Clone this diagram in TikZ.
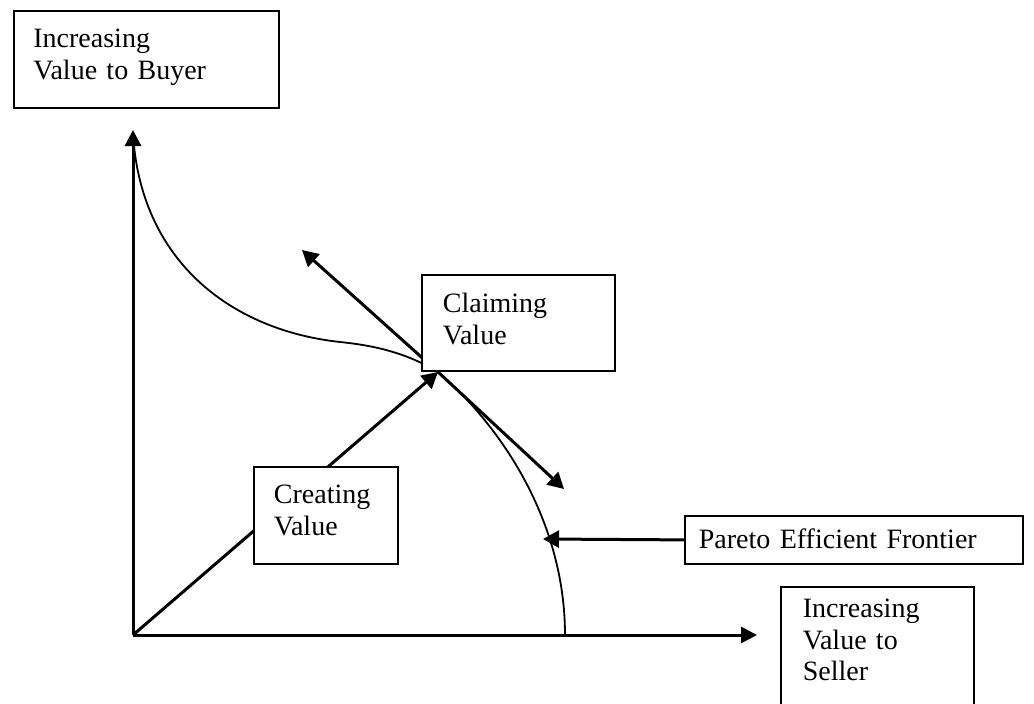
\documentclass[tikz,border=0pt]{standalone}
\usepackage{fontspec}
\setmainfont{Liberation Serif}
\usetikzlibrary{arrows.meta}
\tikzset{
  box/.style={draw, line width=1.8pt, fill=white, rectangle, anchor=north west,
    align=left, inner ysep=0pt, font=\fontsize{28}{31.5}\selectfont},
  axis/.style={line width=3pt, -{Triangle[length=16pt,width=16pt]}},
  arr/.style={line width=3pt, -{Triangle[length=16pt,width=17pt]}},
  frontier/.style={line width=1.8pt},
}
\begin{document}
\begin{tikzpicture}[x=1pt,y=-1pt]
\useasboundingbox (0,0) rectangle (1034,704);
\fill[white] (0,0) rectangle (1034,704);
\clip (0,0) rectangle (1034,704);
% key points
\coordinate (O) at (133,635);
\coordinate (ytip) at (133,130);
\coordinate (xtip) at (757,635);
\coordinate (P) at (438,372);
\coordinate (ul) at (302,250);
\coordinate (dr) at (564,489);
\coordinate (ptip) at (543,539);
\coordinate (c0) at (133,133);
\coordinate (c1) at (340,342);
\coordinate (c2) at (565,635);
% frontier curve
\draw[frontier] (c0) .. controls (140,260) and (230,330) .. (c1)
  .. controls (380,346) and (410,355) .. (P)
  .. controls (500,425) and (565,520) .. (c2);
% axes
\draw[axis] (O) -- (ytip);
\draw[axis] (O) -- (xtip);
% creating value arrow
\draw[arr] (O) -- (P);
% claiming value arrows
\draw[arr] (P) -- (ul);
\draw[arr] (P) -- (dr);
% boxes
\node[box, text width=226pt, inner xsep=19.5pt, text height=37pt, text depth=60pt]
  (buyer) at (13,10) {Increasing\\Value to Buyer};
\node[box, text width=151pt, inner xsep=21pt, text height=38pt, text depth=58pt]
  (claim) at (421,274) {Claiming\\Value};
\node[box, text width=104pt, inner xsep=20pt, text height=37pt, text depth=60pt]
  (create) at (253,466) {Creating\\Value};
\node[box, text width=310pt, inner xsep=14pt, text height=33pt, text depth=15pt]
  (pareto) at (684,515) {Pareto Efficient Frontier};
\node[box, text width=149pt, inner xsep=22pt, text height=31pt, text depth=103pt]
  (seller) at (780,586) {Increasing\\Value to\\Seller};
% pareto pointer
\draw[arr] (pareto.west) -- (ptip);
\end{tikzpicture}
\end{document}
